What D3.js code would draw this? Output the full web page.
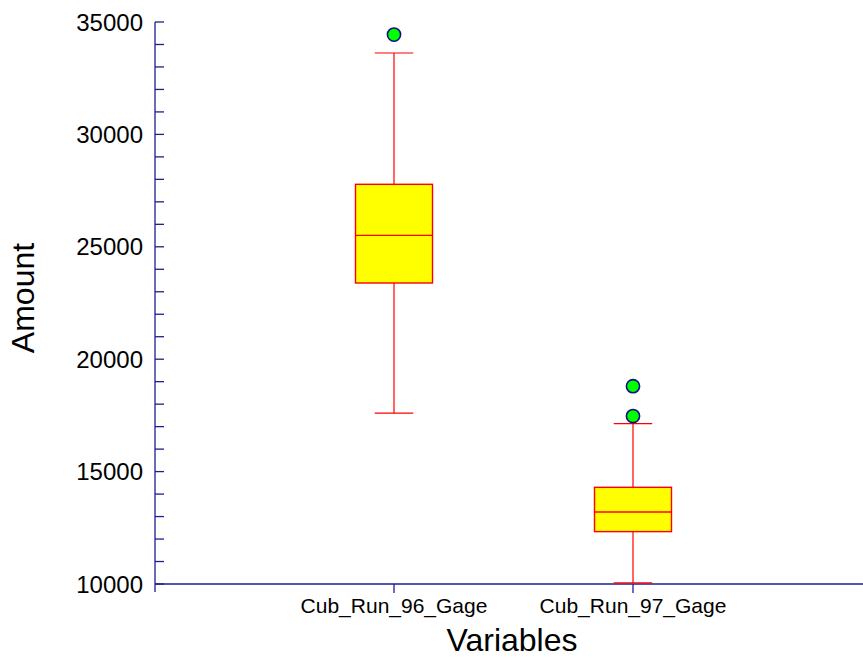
<!DOCTYPE html>
<html>
<head>
<meta charset="utf-8">
<script src="https://cdn.jsdelivr.net/npm/d3@7"></script>
<style>
  body { margin: 0; background: #fff; }
  text { font-family: "Liberation Sans", Arial, sans-serif; fill: #000; }
</style>
</head>
<body>
<script>
// box plot data
var categories = ["Cub_Run_96_Gage", "Cub_Run_97_Gage"];
var whiskerLow = [17600, 10050];
var q1 = [23390, 12330];
var medians = [25510, 13200];
var q3 = [27780, 14300];
var whiskerHigh = [33620, 17130];
var outliers = [[34440], [18800, 17470]];
var yTicks = [10000, 15000, 20000, 25000, 30000, 35000];

var width = 863, height = 661;
var plotLeft = 155, plotRight = 863, plotTop = 22, plotBottom = 584;

var svg = d3.select("body").append("svg")
  .attr("width", width)
  .attr("height", height);

var y = d3.scaleLinear().domain([10000, 35000]).range([plotBottom, plotTop]);
// categories sit at 1 and 2 on a 0..3 axis
var x = d3.scaleLinear().domain([0, 3]).range([plotLeft, plotLeft + 239 * 3]);

var axisColor = "#1c1c96";
var boxW = 77;

// y axis line + ticks (ticks point inward)
svg.append("line")
  .attr("x1", plotLeft).attr("x2", plotLeft)
  .attr("y1", plotTop).attr("y2", plotBottom + 8)
  .attr("stroke", axisColor).attr("stroke-width", 1.3);

d3.range(10000, 35001, 1000).forEach(function(v) {
  svg.append("line")
    .attr("x1", plotLeft).attr("x2", plotLeft + 9)
    .attr("y1", y(v)).attr("y2", y(v))
    .attr("stroke", axisColor).attr("stroke-width", 1.3);
});

svg.selectAll(".ylab").data(yTicks).enter().append("text")
  .attr("class", "ylab")
  .attr("x", 143)
  .attr("y", function(d) { return y(d); })
  .attr("dy", "0.36em")
  .attr("text-anchor", "end")
  .style("font-size", "24px")
  .text(function(d) { return d; });

// x axis line
svg.append("line")
  .attr("x1", plotLeft).attr("x2", plotRight)
  .attr("y1", plotBottom).attr("y2", plotBottom)
  .attr("stroke", axisColor).attr("stroke-width", 1.3);

categories.forEach(function(c, i) {
  var cx = x(i + 1);
  svg.append("line")
    .attr("x1", cx).attr("x2", cx)
    .attr("y1", plotBottom).attr("y2", plotBottom + 9)
    .attr("stroke", axisColor).attr("stroke-width", 1.3);
  svg.append("text")
    .attr("x", cx).attr("y", 613)
    .attr("text-anchor", "middle")
    .style("font-size", "21px")
    .text(c);
});

// boxes
var red = "#ff0000";
categories.forEach(function(c, i) {
  var cx = x(i + 1);
  var g = svg.append("g");
  g.append("line")
    .attr("x1", cx).attr("x2", cx)
    .attr("y1", y(whiskerHigh[i])).attr("y2", y(q3[i]))
    .attr("stroke", red).attr("stroke-width", 1.2);
  g.append("line")
    .attr("x1", cx).attr("x2", cx)
    .attr("y1", y(q1[i])).attr("y2", y(whiskerLow[i]))
    .attr("stroke", red).attr("stroke-width", 1.2);
  [whiskerHigh[i], whiskerLow[i]].forEach(function(v) {
    g.append("line")
      .attr("x1", cx - boxW / 4).attr("x2", cx + boxW / 4)
      .attr("y1", y(v)).attr("y2", y(v))
      .attr("stroke", red).attr("stroke-width", 1.2);
  });
  g.append("rect")
    .attr("x", cx - boxW / 2).attr("width", boxW)
    .attr("y", y(q3[i])).attr("height", y(q1[i]) - y(q3[i]))
    .attr("fill", "#ffff00").attr("stroke", red).attr("stroke-width", 1.4);
  g.append("line")
    .attr("x1", cx - boxW / 2).attr("x2", cx + boxW / 2)
    .attr("y1", y(medians[i])).attr("y2", y(medians[i]))
    .attr("stroke", red).attr("stroke-width", 1.4);
  g.selectAll("circle").data(outliers[i]).enter().append("circle")
    .attr("cx", cx).attr("cy", function(d) { return y(d); })
    .attr("r", 6.6)
    .attr("fill", "#00ff00").attr("stroke", "#101080").attr("stroke-width", 1.6);
});

// axis titles
svg.append("text")
  .attr("transform", "translate(33.5,298) rotate(-90)")
  .attr("text-anchor", "middle")
  .style("font-size", "32px")
  .text("Amount");

svg.append("text")
  .attr("x", 512).attr("y", 651)
  .attr("text-anchor", "middle")
  .style("font-size", "32px")
  .text("Variables");
</script>
</body>
</html>
